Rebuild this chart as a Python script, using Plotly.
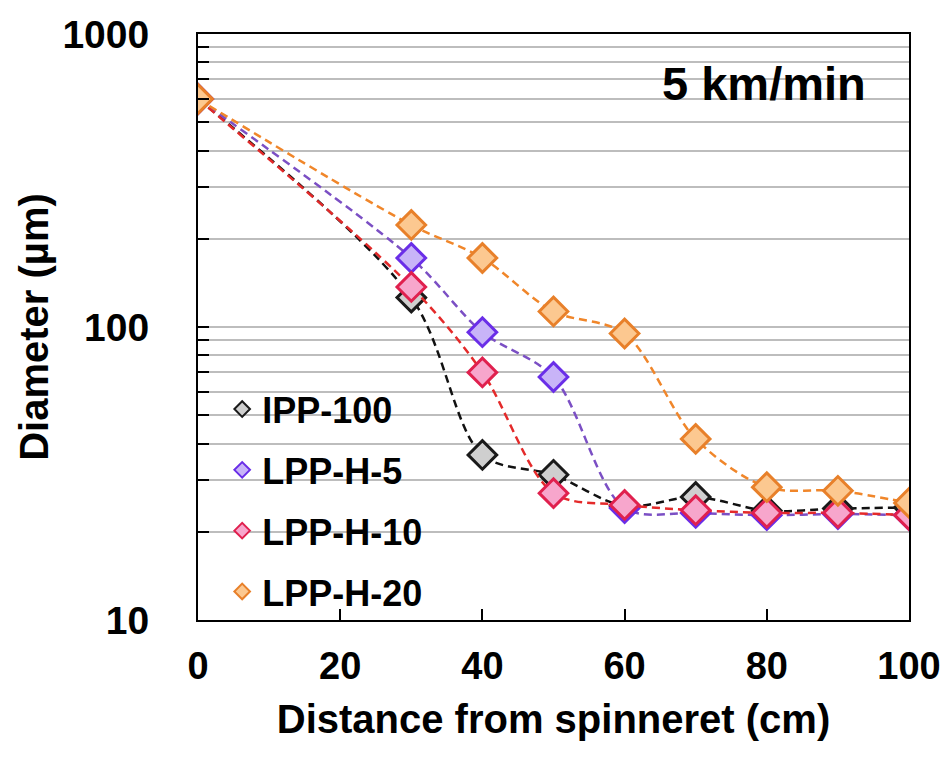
import plotly.graph_objects as go

distance = [0, 30, 40, 50, 60, 70, 80, 90, 100]
series_names = ["IPP-100", "LPP-H-5", "LPP-H-10", "LPP-H-20"]
ipp_100 = [600, 126, 36.6, 31.3, 24.5, 26.3, 23.6, 24.0, 24.2]
lpp_h5 = [600, 172, 96, 67.5, 24.1, 23.2, 22.8, 23.0, 22.8]
lpp_h10 = [600, 137, 70, 27.1, 24.7, 23.7, 23.2, 23.2, 22.8]
lpp_h20 = [600, 223, 172, 113, 95, 41.5, 28.4, 27.6, 25.1]
series_values = [ipp_100, lpp_h5, lpp_h10, lpp_h20]

line_colors = ["#111111", "#7b4fc4", "#e42a2a", "#f0862a"]
edge_colors = ["#1a1a1a", "#6a2ee8", "#e0204e", "#e8802a"]
fill_colors = ["#cfcfcf", "#c8b4f8", "#f7a6cc", "#fcc890"]

fig = go.Figure()
for i, (name, vals) in enumerate(zip(series_names, series_values)):
    fig.add_trace(go.Scatter(
        x=distance, y=vals, name=name, legendgroup=name, showlegend=False,
        mode="lines+markers",
        line=dict(color=line_colors[i], dash="8px,5px", width=2.5, shape="spline", smoothing=0.9),
        marker=dict(symbol="diamond", size=22, color=fill_colors[i],
                    line=dict(color=edge_colors[i], width=3)),
    ))
# legend entries: marker only (as in the reference legend)
for i, name in enumerate(series_names):
    fig.add_trace(go.Scatter(
        x=[None], y=[None], name=name, legendgroup=name, showlegend=True,
        mode="markers",
        marker=dict(symbol="diamond", size=22, color=fill_colors[i],
                    line=dict(color=edge_colors[i], width=3)),
    ))

font_family = "Liberation Sans, Arial, sans-serif"

fig.update_layout(
    width=946, height=765,
    margin=dict(l=198, r=37, t=34, b=145),
    paper_bgcolor="white", plot_bgcolor="white",
    font=dict(family=font_family, color="black", size=26),
    showlegend=True,
    legend=dict(x=0.034, y=0.411, xanchor="left", yanchor="top",
                bgcolor="rgba(0,0,0,0)", tracegroupgap=11,
                font=dict(size=36, family=font_family, weight="bold"),
                itemsizing="constant", itemwidth=30),
    annotations=[dict(text="<b>5 km/min</b>", xref="paper", yref="paper",
                      x=0.942, y=0.915, xanchor="right", yanchor="middle",
                      showarrow=False, font=dict(size=47, family=font_family))],
)

fig.update_xaxes(
    range=[0, 100], tickvals=[0, 20, 40, 60, 80, 100], automargin=False,
    ticks="inside", ticklen=11, tickwidth=1.5, tickcolor="black",
    showline=True, linecolor="black", linewidth=2, mirror=True,
    showgrid=False, zeroline=False,
    tickfont=dict(size=38, family=font_family, weight="bold"),
    ticklabelstandoff=11,
    title=dict(text="<b>Distance from spinneret (cm)</b>", font=dict(size=40, family=font_family), standoff=19),
)

fig.update_yaxes(
    type="log", range=[1, 3], dtick=1, automargin=False,
    ticks="inside", ticklen=11, tickwidth=1.5, tickcolor="black",
    showline=True, linecolor="black", linewidth=2, mirror=True,
    showgrid=True, gridcolor="#bdbdbd", gridwidth=1.5, zeroline=False,
    minor=dict(dtick="D1", ticks="inside", ticklen=11, tickwidth=1.5, tickcolor="black",
               showgrid=True, gridcolor="#bdbdbd", gridwidth=1.5),
    tickfont=dict(size=39, family=font_family, weight="bold"),
    ticklabelstandoff=39,
    title=dict(text="<b>Diameter (µm)</b>", font=dict(size=40, family=font_family), standoff=1),
)

fig.write_html("out.html")
